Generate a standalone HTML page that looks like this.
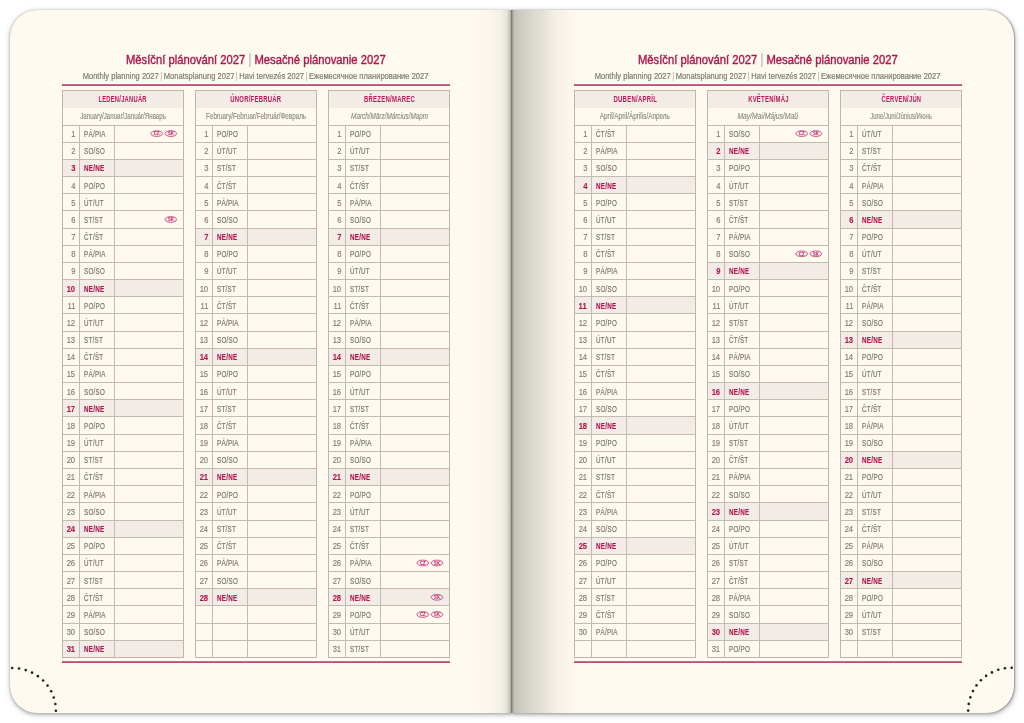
<!DOCTYPE html>
<html><head><meta charset="utf-8"><title>Planner</title><style>
html,body{margin:0;padding:0;}
body{width:1024px;height:723px;overflow:hidden;background:#ffffff;position:relative;font-family:"Liberation Sans",sans-serif;}
.page{position:absolute;top:10.1px;height:702.6px;background:#fefaef;box-shadow:0 0 1.2px rgba(90,85,95,0.45),0 0 4px rgba(80,80,95,0.1),0 1.5px 3px rgba(95,88,80,0.27),0 2px 7px rgba(60,60,75,0.17);}
.pl{left:10.2px;width:501.8px;border-radius:27px 0 0 27px;}
.pr{left:512px;width:501.8px;border-radius:0 27px 27px 0;box-shadow:0 0 1.2px rgba(90,85,95,0.45),0 0 4px rgba(80,80,95,0.1),0.6px 0 1px rgba(90,85,90,0.3),1px 1.5px 3px rgba(95,88,80,0.3),1px 2px 7px rgba(60,60,75,0.18);}
.shl{position:absolute;top:10.1px;height:702.6px;left:470px;width:42px;background:linear-gradient(to right,rgba(253,248,237,0) 0%,rgba(250,241,233,0.5) 50%,#f3efe4 75%,#e4e1d6 88%,#c4c1b8 95%,#8f8c85 100%);}
.shr{position:absolute;top:10.1px;height:702.6px;left:511px;width:68px;background:linear-gradient(to right,#6f6c66 0px,#9e9b93 1.5px,#c2bfb7 3px,#c8c5bd 6px,#d0cdc4 12px,#d9d6cd 20px,#e1ded4 28px,#e9e5db 36px,#f1ece3 41px,#f7f0e8 46px,#fbf4ec 55px,rgba(254,250,239,0) 68px);}
.title,.sub,.mh,.ms{position:absolute;text-align:center;white-space:nowrap;}
.title span,.sub span,.mh span,.ms span,.wd span{display:inline-block;transform-origin:50% 50%;}
.wd span{transform-origin:0 50%;}
.dn span{display:inline-block;transform-origin:100% 50%;}
.title{top:52.2px;width:400px;font-size:12.8px;line-height:16px;color:#ad164d;-webkit-text-stroke:0.4px #ad164d;}
.sub{top:70.9px;width:420px;font-size:8.4px;line-height:10px;color:#7f7c77;-webkit-text-stroke:0.2px #7f7c77;}
.sp{font-style:normal;color:#aaa69f;-webkit-text-stroke:0;display:inline-block;transform:scaleY(1.12);}
.pk{position:absolute;height:1.8px;background:linear-gradient(#e596b2 0%,#b9587b 35%,#a9566f 100%);}
.tb{position:absolute;border:1px solid #bcb7ad;box-sizing:border-box;}
.hl{position:absolute;height:1px;background:#c1bcb2;}
.vl{position:absolute;width:1px;background:#c1bcb2;}
.hd{position:absolute;background:#f2ebe6;}
.sun{position:absolute;background:#f2ebe6;}
.mh{top:94.4px;font-weight:bold;font-size:8.3px;letter-spacing:0.35px;line-height:10px;color:#bb1856;}
.ms{top:112.2px;font-size:8.2px;line-height:10px;color:#86837e;-webkit-text-stroke:0.1px #86837e;}
.dn{position:absolute;text-align:right;font-size:8.2px;line-height:9px;color:#807d77;-webkit-text-stroke:0.15px #807d77;white-space:nowrap;}
.wd{position:absolute;font-size:8.2px;line-height:9px;letter-spacing:0.35px;color:#7a7772;-webkit-text-stroke:0.2px #7a7772;white-space:nowrap;}
.s{color:#b01550;font-weight:bold;-webkit-text-stroke:0.1px #b01550;}
.bdg ellipse{fill:#fbe8ee;stroke:#c54c78;stroke-width:0.9px;}
.bdg text{font-family:"Liberation Sans",sans-serif;font-size:4.8px;font-weight:bold;fill:#b52a60;text-anchor:middle;}
.a{position:absolute;}
</style></head><body>
<div class="page pl"></div><div class="page pr"></div>
<div class="shl"></div><div class="shr"></div>
<div class="title" style="left:55.5px"><span style="transform:scaleX(0.8782);">Měsíční plánování 2027 <i class="sp">|</i> Mesačné plánovanie 2027</span></div>
<div class="sub" style="left:45.5px"><span style="transform:scaleX(0.9027);">Monthly planning 2027 <i class="sp">|</i> Monatsplanung 2027 <i class="sp">|</i> Havi tervezés 2027 <i class="sp">|</i> Ежемесячное планирование 2027</span></div>
<div class="pk" style="left:62px;top:83.8px;width:387.6px"></div>
<div class="pk" style="left:62px;top:661.3px;width:387.6px"></div>
<div class="hd" style="left:62.5px;top:90.5px;width:121px;height:17.0px"></div>
<div class="sun" style="left:62.5px;top:159.35px;width:121px;height:17.17px"></div>
<div class="sun" style="left:62.5px;top:279.57px;width:121px;height:17.17px"></div>
<div class="sun" style="left:62.5px;top:399.79px;width:121px;height:17.17px"></div>
<div class="sun" style="left:62.5px;top:520.01px;width:121px;height:17.17px"></div>
<div class="sun" style="left:62.5px;top:640.23px;width:121px;height:17.17px"></div>
<div class="tb" style="left:62.0px;top:90.0px;width:122px;height:567.9px"></div>
<div class="hl" style="left:62.5px;top:124.5px;width:121px"></div>
<div class="hl" style="left:62.5px;top:141.67px;width:121px"></div>
<div class="hl" style="left:62.5px;top:158.85px;width:121px"></div>
<div class="hl" style="left:62.5px;top:176.02px;width:121px"></div>
<div class="hl" style="left:62.5px;top:193.20px;width:121px"></div>
<div class="hl" style="left:62.5px;top:210.37px;width:121px"></div>
<div class="hl" style="left:62.5px;top:227.55px;width:121px"></div>
<div class="hl" style="left:62.5px;top:244.72px;width:121px"></div>
<div class="hl" style="left:62.5px;top:261.89px;width:121px"></div>
<div class="hl" style="left:62.5px;top:279.07px;width:121px"></div>
<div class="hl" style="left:62.5px;top:296.24px;width:121px"></div>
<div class="hl" style="left:62.5px;top:313.42px;width:121px"></div>
<div class="hl" style="left:62.5px;top:330.59px;width:121px"></div>
<div class="hl" style="left:62.5px;top:347.76px;width:121px"></div>
<div class="hl" style="left:62.5px;top:364.94px;width:121px"></div>
<div class="hl" style="left:62.5px;top:382.11px;width:121px"></div>
<div class="hl" style="left:62.5px;top:399.29px;width:121px"></div>
<div class="hl" style="left:62.5px;top:416.46px;width:121px"></div>
<div class="hl" style="left:62.5px;top:433.64px;width:121px"></div>
<div class="hl" style="left:62.5px;top:450.81px;width:121px"></div>
<div class="hl" style="left:62.5px;top:467.98px;width:121px"></div>
<div class="hl" style="left:62.5px;top:485.16px;width:121px"></div>
<div class="hl" style="left:62.5px;top:502.33px;width:121px"></div>
<div class="hl" style="left:62.5px;top:519.51px;width:121px"></div>
<div class="hl" style="left:62.5px;top:536.68px;width:121px"></div>
<div class="hl" style="left:62.5px;top:553.85px;width:121px"></div>
<div class="hl" style="left:62.5px;top:571.03px;width:121px"></div>
<div class="hl" style="left:62.5px;top:588.20px;width:121px"></div>
<div class="hl" style="left:62.5px;top:605.38px;width:121px"></div>
<div class="hl" style="left:62.5px;top:622.55px;width:121px"></div>
<div class="hl" style="left:62.5px;top:639.73px;width:121px"></div>
<div class="vl" style="left:79.0px;top:125.0px;height:532.4px"></div>
<div class="vl" style="left:114.0px;top:125.0px;height:532.4px"></div>
<div class="mh" style="left:23.0px;width:200px"><span style="transform:scaleX(0.6997);">LEDEN/JANUÁR</span></div>
<div class="ms" style="left:23.0px;width:200px;"><span style="transform:scaleX(0.7507);">January/Januar/Január/Январь</span></div>
<div class="dn" style="left:62.5px;top:130.00px;width:12.6px"><span style="transform:scaleX(0.9300)">1</span></div>
<div class="wd" style="left:83.8px;top:130.00px"><span style="transform:scaleX(0.7658)">PÁ/PIA</span></div>
<div class="dn" style="left:62.5px;top:147.17px;width:12.6px"><span style="transform:scaleX(0.9300)">2</span></div>
<div class="wd" style="left:83.8px;top:147.17px"><span style="transform:scaleX(0.7658)">SO/SO</span></div>
<div class="dn s" style="left:62.5px;top:164.35px;width:12.6px"><span style="transform:scaleX(0.9300)">3</span></div>
<div class="wd s" style="left:83.8px;top:164.35px"><span style="transform:scaleX(0.7658)">NE/NE</span></div>
<div class="dn" style="left:62.5px;top:181.52px;width:12.6px"><span style="transform:scaleX(0.9300)">4</span></div>
<div class="wd" style="left:83.8px;top:181.52px"><span style="transform:scaleX(0.7658)">PO/PO</span></div>
<div class="dn" style="left:62.5px;top:198.70px;width:12.6px"><span style="transform:scaleX(0.9300)">5</span></div>
<div class="wd" style="left:83.8px;top:198.70px"><span style="transform:scaleX(0.7658)">ÚT/UT</span></div>
<div class="dn" style="left:62.5px;top:215.87px;width:12.6px"><span style="transform:scaleX(0.9300)">6</span></div>
<div class="wd" style="left:83.8px;top:215.87px"><span style="transform:scaleX(0.7658)">ST/ST</span></div>
<div class="dn" style="left:62.5px;top:233.05px;width:12.6px"><span style="transform:scaleX(0.9300)">7</span></div>
<div class="wd" style="left:83.8px;top:233.05px"><span style="transform:scaleX(0.7658)">ČT/ŠT</span></div>
<div class="dn" style="left:62.5px;top:250.22px;width:12.6px"><span style="transform:scaleX(0.9300)">8</span></div>
<div class="wd" style="left:83.8px;top:250.22px"><span style="transform:scaleX(0.7658)">PÁ/PIA</span></div>
<div class="dn" style="left:62.5px;top:267.39px;width:12.6px"><span style="transform:scaleX(0.9300)">9</span></div>
<div class="wd" style="left:83.8px;top:267.39px"><span style="transform:scaleX(0.7658)">SO/SO</span></div>
<div class="dn s" style="left:62.5px;top:284.57px;width:12.6px"><span style="transform:scaleX(0.9300)">10</span></div>
<div class="wd s" style="left:83.8px;top:284.57px"><span style="transform:scaleX(0.7658)">NE/NE</span></div>
<div class="dn" style="left:62.5px;top:301.74px;width:12.6px"><span style="transform:scaleX(0.9300)">11</span></div>
<div class="wd" style="left:83.8px;top:301.74px"><span style="transform:scaleX(0.7658)">PO/PO</span></div>
<div class="dn" style="left:62.5px;top:318.92px;width:12.6px"><span style="transform:scaleX(0.9300)">12</span></div>
<div class="wd" style="left:83.8px;top:318.92px"><span style="transform:scaleX(0.7658)">ÚT/UT</span></div>
<div class="dn" style="left:62.5px;top:336.09px;width:12.6px"><span style="transform:scaleX(0.9300)">13</span></div>
<div class="wd" style="left:83.8px;top:336.09px"><span style="transform:scaleX(0.7658)">ST/ST</span></div>
<div class="dn" style="left:62.5px;top:353.26px;width:12.6px"><span style="transform:scaleX(0.9300)">14</span></div>
<div class="wd" style="left:83.8px;top:353.26px"><span style="transform:scaleX(0.7658)">ČT/ŠT</span></div>
<div class="dn" style="left:62.5px;top:370.44px;width:12.6px"><span style="transform:scaleX(0.9300)">15</span></div>
<div class="wd" style="left:83.8px;top:370.44px"><span style="transform:scaleX(0.7658)">PÁ/PIA</span></div>
<div class="dn" style="left:62.5px;top:387.61px;width:12.6px"><span style="transform:scaleX(0.9300)">16</span></div>
<div class="wd" style="left:83.8px;top:387.61px"><span style="transform:scaleX(0.7658)">SO/SO</span></div>
<div class="dn s" style="left:62.5px;top:404.79px;width:12.6px"><span style="transform:scaleX(0.9300)">17</span></div>
<div class="wd s" style="left:83.8px;top:404.79px"><span style="transform:scaleX(0.7658)">NE/NE</span></div>
<div class="dn" style="left:62.5px;top:421.96px;width:12.6px"><span style="transform:scaleX(0.9300)">18</span></div>
<div class="wd" style="left:83.8px;top:421.96px"><span style="transform:scaleX(0.7658)">PO/PO</span></div>
<div class="dn" style="left:62.5px;top:439.14px;width:12.6px"><span style="transform:scaleX(0.9300)">19</span></div>
<div class="wd" style="left:83.8px;top:439.14px"><span style="transform:scaleX(0.7658)">ÚT/UT</span></div>
<div class="dn" style="left:62.5px;top:456.31px;width:12.6px"><span style="transform:scaleX(0.9300)">20</span></div>
<div class="wd" style="left:83.8px;top:456.31px"><span style="transform:scaleX(0.7658)">ST/ST</span></div>
<div class="dn" style="left:62.5px;top:473.48px;width:12.6px"><span style="transform:scaleX(0.9300)">21</span></div>
<div class="wd" style="left:83.8px;top:473.48px"><span style="transform:scaleX(0.7658)">ČT/ŠT</span></div>
<div class="dn" style="left:62.5px;top:490.66px;width:12.6px"><span style="transform:scaleX(0.9300)">22</span></div>
<div class="wd" style="left:83.8px;top:490.66px"><span style="transform:scaleX(0.7658)">PÁ/PIA</span></div>
<div class="dn" style="left:62.5px;top:507.83px;width:12.6px"><span style="transform:scaleX(0.9300)">23</span></div>
<div class="wd" style="left:83.8px;top:507.83px"><span style="transform:scaleX(0.7658)">SO/SO</span></div>
<div class="dn s" style="left:62.5px;top:525.01px;width:12.6px"><span style="transform:scaleX(0.9300)">24</span></div>
<div class="wd s" style="left:83.8px;top:525.01px"><span style="transform:scaleX(0.7658)">NE/NE</span></div>
<div class="dn" style="left:62.5px;top:542.18px;width:12.6px"><span style="transform:scaleX(0.9300)">25</span></div>
<div class="wd" style="left:83.8px;top:542.18px"><span style="transform:scaleX(0.7658)">PO/PO</span></div>
<div class="dn" style="left:62.5px;top:559.35px;width:12.6px"><span style="transform:scaleX(0.9300)">26</span></div>
<div class="wd" style="left:83.8px;top:559.35px"><span style="transform:scaleX(0.7658)">ÚT/UT</span></div>
<div class="dn" style="left:62.5px;top:576.53px;width:12.6px"><span style="transform:scaleX(0.9300)">27</span></div>
<div class="wd" style="left:83.8px;top:576.53px"><span style="transform:scaleX(0.7658)">ST/ST</span></div>
<div class="dn" style="left:62.5px;top:593.70px;width:12.6px"><span style="transform:scaleX(0.9300)">28</span></div>
<div class="wd" style="left:83.8px;top:593.70px"><span style="transform:scaleX(0.7658)">ČT/ŠT</span></div>
<div class="dn" style="left:62.5px;top:610.88px;width:12.6px"><span style="transform:scaleX(0.9300)">29</span></div>
<div class="wd" style="left:83.8px;top:610.88px"><span style="transform:scaleX(0.7658)">PÁ/PIA</span></div>
<div class="dn" style="left:62.5px;top:628.05px;width:12.6px"><span style="transform:scaleX(0.9300)">30</span></div>
<div class="wd" style="left:83.8px;top:628.05px"><span style="transform:scaleX(0.7658)">SO/SO</span></div>
<div class="dn s" style="left:62.5px;top:645.23px;width:12.6px"><span style="transform:scaleX(0.9300)">31</span></div>
<div class="wd s" style="left:83.8px;top:645.23px"><span style="transform:scaleX(0.7658)">NE/NE</span></div>
<div class="hd" style="left:195.6px;top:90.5px;width:121px;height:17.0px"></div>
<div class="sun" style="left:195.6px;top:228.05px;width:121px;height:17.17px"></div>
<div class="sun" style="left:195.6px;top:348.26px;width:121px;height:17.17px"></div>
<div class="sun" style="left:195.6px;top:468.48px;width:121px;height:17.17px"></div>
<div class="sun" style="left:195.6px;top:588.70px;width:121px;height:17.17px"></div>
<div class="tb" style="left:195.1px;top:90.0px;width:122px;height:567.9px"></div>
<div class="hl" style="left:195.6px;top:124.5px;width:121px"></div>
<div class="hl" style="left:195.6px;top:141.67px;width:121px"></div>
<div class="hl" style="left:195.6px;top:158.85px;width:121px"></div>
<div class="hl" style="left:195.6px;top:176.02px;width:121px"></div>
<div class="hl" style="left:195.6px;top:193.20px;width:121px"></div>
<div class="hl" style="left:195.6px;top:210.37px;width:121px"></div>
<div class="hl" style="left:195.6px;top:227.55px;width:121px"></div>
<div class="hl" style="left:195.6px;top:244.72px;width:121px"></div>
<div class="hl" style="left:195.6px;top:261.89px;width:121px"></div>
<div class="hl" style="left:195.6px;top:279.07px;width:121px"></div>
<div class="hl" style="left:195.6px;top:296.24px;width:121px"></div>
<div class="hl" style="left:195.6px;top:313.42px;width:121px"></div>
<div class="hl" style="left:195.6px;top:330.59px;width:121px"></div>
<div class="hl" style="left:195.6px;top:347.76px;width:121px"></div>
<div class="hl" style="left:195.6px;top:364.94px;width:121px"></div>
<div class="hl" style="left:195.6px;top:382.11px;width:121px"></div>
<div class="hl" style="left:195.6px;top:399.29px;width:121px"></div>
<div class="hl" style="left:195.6px;top:416.46px;width:121px"></div>
<div class="hl" style="left:195.6px;top:433.64px;width:121px"></div>
<div class="hl" style="left:195.6px;top:450.81px;width:121px"></div>
<div class="hl" style="left:195.6px;top:467.98px;width:121px"></div>
<div class="hl" style="left:195.6px;top:485.16px;width:121px"></div>
<div class="hl" style="left:195.6px;top:502.33px;width:121px"></div>
<div class="hl" style="left:195.6px;top:519.51px;width:121px"></div>
<div class="hl" style="left:195.6px;top:536.68px;width:121px"></div>
<div class="hl" style="left:195.6px;top:553.85px;width:121px"></div>
<div class="hl" style="left:195.6px;top:571.03px;width:121px"></div>
<div class="hl" style="left:195.6px;top:588.20px;width:121px"></div>
<div class="hl" style="left:195.6px;top:605.38px;width:121px"></div>
<div class="hl" style="left:195.6px;top:622.55px;width:121px"></div>
<div class="hl" style="left:195.6px;top:639.73px;width:121px"></div>
<div class="vl" style="left:212.1px;top:125.0px;height:532.4px"></div>
<div class="vl" style="left:247.1px;top:125.0px;height:532.4px"></div>
<div class="mh" style="left:156.10000000000002px;width:200px"><span style="transform:scaleX(0.7137);">ÚNOR/FEBRUÁR</span></div>
<div class="ms" style="left:156.10000000000002px;width:200px;"><span style="transform:scaleX(0.7677);">February/Februar/Február/Февраль</span></div>
<div class="dn" style="left:195.6px;top:130.00px;width:12.6px"><span style="transform:scaleX(0.9300)">1</span></div>
<div class="wd" style="left:216.9px;top:130.00px"><span style="transform:scaleX(0.7658)">PO/PO</span></div>
<div class="dn" style="left:195.6px;top:147.17px;width:12.6px"><span style="transform:scaleX(0.9300)">2</span></div>
<div class="wd" style="left:216.9px;top:147.17px"><span style="transform:scaleX(0.7658)">ÚT/UT</span></div>
<div class="dn" style="left:195.6px;top:164.35px;width:12.6px"><span style="transform:scaleX(0.9300)">3</span></div>
<div class="wd" style="left:216.9px;top:164.35px"><span style="transform:scaleX(0.7658)">ST/ST</span></div>
<div class="dn" style="left:195.6px;top:181.52px;width:12.6px"><span style="transform:scaleX(0.9300)">4</span></div>
<div class="wd" style="left:216.9px;top:181.52px"><span style="transform:scaleX(0.7658)">ČT/ŠT</span></div>
<div class="dn" style="left:195.6px;top:198.70px;width:12.6px"><span style="transform:scaleX(0.9300)">5</span></div>
<div class="wd" style="left:216.9px;top:198.70px"><span style="transform:scaleX(0.7658)">PÁ/PIA</span></div>
<div class="dn" style="left:195.6px;top:215.87px;width:12.6px"><span style="transform:scaleX(0.9300)">6</span></div>
<div class="wd" style="left:216.9px;top:215.87px"><span style="transform:scaleX(0.7658)">SO/SO</span></div>
<div class="dn s" style="left:195.6px;top:233.05px;width:12.6px"><span style="transform:scaleX(0.9300)">7</span></div>
<div class="wd s" style="left:216.9px;top:233.05px"><span style="transform:scaleX(0.7658)">NE/NE</span></div>
<div class="dn" style="left:195.6px;top:250.22px;width:12.6px"><span style="transform:scaleX(0.9300)">8</span></div>
<div class="wd" style="left:216.9px;top:250.22px"><span style="transform:scaleX(0.7658)">PO/PO</span></div>
<div class="dn" style="left:195.6px;top:267.39px;width:12.6px"><span style="transform:scaleX(0.9300)">9</span></div>
<div class="wd" style="left:216.9px;top:267.39px"><span style="transform:scaleX(0.7658)">ÚT/UT</span></div>
<div class="dn" style="left:195.6px;top:284.57px;width:12.6px"><span style="transform:scaleX(0.9300)">10</span></div>
<div class="wd" style="left:216.9px;top:284.57px"><span style="transform:scaleX(0.7658)">ST/ST</span></div>
<div class="dn" style="left:195.6px;top:301.74px;width:12.6px"><span style="transform:scaleX(0.9300)">11</span></div>
<div class="wd" style="left:216.9px;top:301.74px"><span style="transform:scaleX(0.7658)">ČT/ŠT</span></div>
<div class="dn" style="left:195.6px;top:318.92px;width:12.6px"><span style="transform:scaleX(0.9300)">12</span></div>
<div class="wd" style="left:216.9px;top:318.92px"><span style="transform:scaleX(0.7658)">PÁ/PIA</span></div>
<div class="dn" style="left:195.6px;top:336.09px;width:12.6px"><span style="transform:scaleX(0.9300)">13</span></div>
<div class="wd" style="left:216.9px;top:336.09px"><span style="transform:scaleX(0.7658)">SO/SO</span></div>
<div class="dn s" style="left:195.6px;top:353.26px;width:12.6px"><span style="transform:scaleX(0.9300)">14</span></div>
<div class="wd s" style="left:216.9px;top:353.26px"><span style="transform:scaleX(0.7658)">NE/NE</span></div>
<div class="dn" style="left:195.6px;top:370.44px;width:12.6px"><span style="transform:scaleX(0.9300)">15</span></div>
<div class="wd" style="left:216.9px;top:370.44px"><span style="transform:scaleX(0.7658)">PO/PO</span></div>
<div class="dn" style="left:195.6px;top:387.61px;width:12.6px"><span style="transform:scaleX(0.9300)">16</span></div>
<div class="wd" style="left:216.9px;top:387.61px"><span style="transform:scaleX(0.7658)">ÚT/UT</span></div>
<div class="dn" style="left:195.6px;top:404.79px;width:12.6px"><span style="transform:scaleX(0.9300)">17</span></div>
<div class="wd" style="left:216.9px;top:404.79px"><span style="transform:scaleX(0.7658)">ST/ST</span></div>
<div class="dn" style="left:195.6px;top:421.96px;width:12.6px"><span style="transform:scaleX(0.9300)">18</span></div>
<div class="wd" style="left:216.9px;top:421.96px"><span style="transform:scaleX(0.7658)">ČT/ŠT</span></div>
<div class="dn" style="left:195.6px;top:439.14px;width:12.6px"><span style="transform:scaleX(0.9300)">19</span></div>
<div class="wd" style="left:216.9px;top:439.14px"><span style="transform:scaleX(0.7658)">PÁ/PIA</span></div>
<div class="dn" style="left:195.6px;top:456.31px;width:12.6px"><span style="transform:scaleX(0.9300)">20</span></div>
<div class="wd" style="left:216.9px;top:456.31px"><span style="transform:scaleX(0.7658)">SO/SO</span></div>
<div class="dn s" style="left:195.6px;top:473.48px;width:12.6px"><span style="transform:scaleX(0.9300)">21</span></div>
<div class="wd s" style="left:216.9px;top:473.48px"><span style="transform:scaleX(0.7658)">NE/NE</span></div>
<div class="dn" style="left:195.6px;top:490.66px;width:12.6px"><span style="transform:scaleX(0.9300)">22</span></div>
<div class="wd" style="left:216.9px;top:490.66px"><span style="transform:scaleX(0.7658)">PO/PO</span></div>
<div class="dn" style="left:195.6px;top:507.83px;width:12.6px"><span style="transform:scaleX(0.9300)">23</span></div>
<div class="wd" style="left:216.9px;top:507.83px"><span style="transform:scaleX(0.7658)">ÚT/UT</span></div>
<div class="dn" style="left:195.6px;top:525.01px;width:12.6px"><span style="transform:scaleX(0.9300)">24</span></div>
<div class="wd" style="left:216.9px;top:525.01px"><span style="transform:scaleX(0.7658)">ST/ST</span></div>
<div class="dn" style="left:195.6px;top:542.18px;width:12.6px"><span style="transform:scaleX(0.9300)">25</span></div>
<div class="wd" style="left:216.9px;top:542.18px"><span style="transform:scaleX(0.7658)">ČT/ŠT</span></div>
<div class="dn" style="left:195.6px;top:559.35px;width:12.6px"><span style="transform:scaleX(0.9300)">26</span></div>
<div class="wd" style="left:216.9px;top:559.35px"><span style="transform:scaleX(0.7658)">PÁ/PIA</span></div>
<div class="dn" style="left:195.6px;top:576.53px;width:12.6px"><span style="transform:scaleX(0.9300)">27</span></div>
<div class="wd" style="left:216.9px;top:576.53px"><span style="transform:scaleX(0.7658)">SO/SO</span></div>
<div class="dn s" style="left:195.6px;top:593.70px;width:12.6px"><span style="transform:scaleX(0.9300)">28</span></div>
<div class="wd s" style="left:216.9px;top:593.70px"><span style="transform:scaleX(0.7658)">NE/NE</span></div>
<div class="hd" style="left:328.7px;top:90.5px;width:121px;height:17.0px"></div>
<div class="sun" style="left:328.7px;top:228.05px;width:121px;height:17.17px"></div>
<div class="sun" style="left:328.7px;top:348.26px;width:121px;height:17.17px"></div>
<div class="sun" style="left:328.7px;top:468.48px;width:121px;height:17.17px"></div>
<div class="sun" style="left:328.7px;top:588.70px;width:121px;height:17.17px"></div>
<div class="tb" style="left:328.2px;top:90.0px;width:122px;height:567.9px"></div>
<div class="hl" style="left:328.7px;top:124.5px;width:121px"></div>
<div class="hl" style="left:328.7px;top:141.67px;width:121px"></div>
<div class="hl" style="left:328.7px;top:158.85px;width:121px"></div>
<div class="hl" style="left:328.7px;top:176.02px;width:121px"></div>
<div class="hl" style="left:328.7px;top:193.20px;width:121px"></div>
<div class="hl" style="left:328.7px;top:210.37px;width:121px"></div>
<div class="hl" style="left:328.7px;top:227.55px;width:121px"></div>
<div class="hl" style="left:328.7px;top:244.72px;width:121px"></div>
<div class="hl" style="left:328.7px;top:261.89px;width:121px"></div>
<div class="hl" style="left:328.7px;top:279.07px;width:121px"></div>
<div class="hl" style="left:328.7px;top:296.24px;width:121px"></div>
<div class="hl" style="left:328.7px;top:313.42px;width:121px"></div>
<div class="hl" style="left:328.7px;top:330.59px;width:121px"></div>
<div class="hl" style="left:328.7px;top:347.76px;width:121px"></div>
<div class="hl" style="left:328.7px;top:364.94px;width:121px"></div>
<div class="hl" style="left:328.7px;top:382.11px;width:121px"></div>
<div class="hl" style="left:328.7px;top:399.29px;width:121px"></div>
<div class="hl" style="left:328.7px;top:416.46px;width:121px"></div>
<div class="hl" style="left:328.7px;top:433.64px;width:121px"></div>
<div class="hl" style="left:328.7px;top:450.81px;width:121px"></div>
<div class="hl" style="left:328.7px;top:467.98px;width:121px"></div>
<div class="hl" style="left:328.7px;top:485.16px;width:121px"></div>
<div class="hl" style="left:328.7px;top:502.33px;width:121px"></div>
<div class="hl" style="left:328.7px;top:519.51px;width:121px"></div>
<div class="hl" style="left:328.7px;top:536.68px;width:121px"></div>
<div class="hl" style="left:328.7px;top:553.85px;width:121px"></div>
<div class="hl" style="left:328.7px;top:571.03px;width:121px"></div>
<div class="hl" style="left:328.7px;top:588.20px;width:121px"></div>
<div class="hl" style="left:328.7px;top:605.38px;width:121px"></div>
<div class="hl" style="left:328.7px;top:622.55px;width:121px"></div>
<div class="hl" style="left:328.7px;top:639.73px;width:121px"></div>
<div class="vl" style="left:345.2px;top:125.0px;height:532.4px"></div>
<div class="vl" style="left:380.2px;top:125.0px;height:532.4px"></div>
<div class="mh" style="left:289.2px;width:200px"><span style="transform:scaleX(0.7197);">BŘEZEN/MAREC</span></div>
<div class="ms" style="left:289.2px;width:200px;font-style:italic;"><span style="transform:scaleX(0.7764);">March/März/Március/Март</span></div>
<div class="dn" style="left:328.7px;top:130.00px;width:12.6px"><span style="transform:scaleX(0.9300)">1</span></div>
<div class="wd" style="left:350.0px;top:130.00px"><span style="transform:scaleX(0.7658)">PO/PO</span></div>
<div class="dn" style="left:328.7px;top:147.17px;width:12.6px"><span style="transform:scaleX(0.9300)">2</span></div>
<div class="wd" style="left:350.0px;top:147.17px"><span style="transform:scaleX(0.7658)">ÚT/UT</span></div>
<div class="dn" style="left:328.7px;top:164.35px;width:12.6px"><span style="transform:scaleX(0.9300)">3</span></div>
<div class="wd" style="left:350.0px;top:164.35px"><span style="transform:scaleX(0.7658)">ST/ST</span></div>
<div class="dn" style="left:328.7px;top:181.52px;width:12.6px"><span style="transform:scaleX(0.9300)">4</span></div>
<div class="wd" style="left:350.0px;top:181.52px"><span style="transform:scaleX(0.7658)">ČT/ŠT</span></div>
<div class="dn" style="left:328.7px;top:198.70px;width:12.6px"><span style="transform:scaleX(0.9300)">5</span></div>
<div class="wd" style="left:350.0px;top:198.70px"><span style="transform:scaleX(0.7658)">PÁ/PIA</span></div>
<div class="dn" style="left:328.7px;top:215.87px;width:12.6px"><span style="transform:scaleX(0.9300)">6</span></div>
<div class="wd" style="left:350.0px;top:215.87px"><span style="transform:scaleX(0.7658)">SO/SO</span></div>
<div class="dn s" style="left:328.7px;top:233.05px;width:12.6px"><span style="transform:scaleX(0.9300)">7</span></div>
<div class="wd s" style="left:350.0px;top:233.05px"><span style="transform:scaleX(0.7658)">NE/NE</span></div>
<div class="dn" style="left:328.7px;top:250.22px;width:12.6px"><span style="transform:scaleX(0.9300)">8</span></div>
<div class="wd" style="left:350.0px;top:250.22px"><span style="transform:scaleX(0.7658)">PO/PO</span></div>
<div class="dn" style="left:328.7px;top:267.39px;width:12.6px"><span style="transform:scaleX(0.9300)">9</span></div>
<div class="wd" style="left:350.0px;top:267.39px"><span style="transform:scaleX(0.7658)">ÚT/UT</span></div>
<div class="dn" style="left:328.7px;top:284.57px;width:12.6px"><span style="transform:scaleX(0.9300)">10</span></div>
<div class="wd" style="left:350.0px;top:284.57px"><span style="transform:scaleX(0.7658)">ST/ST</span></div>
<div class="dn" style="left:328.7px;top:301.74px;width:12.6px"><span style="transform:scaleX(0.9300)">11</span></div>
<div class="wd" style="left:350.0px;top:301.74px"><span style="transform:scaleX(0.7658)">ČT/ŠT</span></div>
<div class="dn" style="left:328.7px;top:318.92px;width:12.6px"><span style="transform:scaleX(0.9300)">12</span></div>
<div class="wd" style="left:350.0px;top:318.92px"><span style="transform:scaleX(0.7658)">PÁ/PIA</span></div>
<div class="dn" style="left:328.7px;top:336.09px;width:12.6px"><span style="transform:scaleX(0.9300)">13</span></div>
<div class="wd" style="left:350.0px;top:336.09px"><span style="transform:scaleX(0.7658)">SO/SO</span></div>
<div class="dn s" style="left:328.7px;top:353.26px;width:12.6px"><span style="transform:scaleX(0.9300)">14</span></div>
<div class="wd s" style="left:350.0px;top:353.26px"><span style="transform:scaleX(0.7658)">NE/NE</span></div>
<div class="dn" style="left:328.7px;top:370.44px;width:12.6px"><span style="transform:scaleX(0.9300)">15</span></div>
<div class="wd" style="left:350.0px;top:370.44px"><span style="transform:scaleX(0.7658)">PO/PO</span></div>
<div class="dn" style="left:328.7px;top:387.61px;width:12.6px"><span style="transform:scaleX(0.9300)">16</span></div>
<div class="wd" style="left:350.0px;top:387.61px"><span style="transform:scaleX(0.7658)">ÚT/UT</span></div>
<div class="dn" style="left:328.7px;top:404.79px;width:12.6px"><span style="transform:scaleX(0.9300)">17</span></div>
<div class="wd" style="left:350.0px;top:404.79px"><span style="transform:scaleX(0.7658)">ST/ST</span></div>
<div class="dn" style="left:328.7px;top:421.96px;width:12.6px"><span style="transform:scaleX(0.9300)">18</span></div>
<div class="wd" style="left:350.0px;top:421.96px"><span style="transform:scaleX(0.7658)">ČT/ŠT</span></div>
<div class="dn" style="left:328.7px;top:439.14px;width:12.6px"><span style="transform:scaleX(0.9300)">19</span></div>
<div class="wd" style="left:350.0px;top:439.14px"><span style="transform:scaleX(0.7658)">PÁ/PIA</span></div>
<div class="dn" style="left:328.7px;top:456.31px;width:12.6px"><span style="transform:scaleX(0.9300)">20</span></div>
<div class="wd" style="left:350.0px;top:456.31px"><span style="transform:scaleX(0.7658)">SO/SO</span></div>
<div class="dn s" style="left:328.7px;top:473.48px;width:12.6px"><span style="transform:scaleX(0.9300)">21</span></div>
<div class="wd s" style="left:350.0px;top:473.48px"><span style="transform:scaleX(0.7658)">NE/NE</span></div>
<div class="dn" style="left:328.7px;top:490.66px;width:12.6px"><span style="transform:scaleX(0.9300)">22</span></div>
<div class="wd" style="left:350.0px;top:490.66px"><span style="transform:scaleX(0.7658)">PO/PO</span></div>
<div class="dn" style="left:328.7px;top:507.83px;width:12.6px"><span style="transform:scaleX(0.9300)">23</span></div>
<div class="wd" style="left:350.0px;top:507.83px"><span style="transform:scaleX(0.7658)">ÚT/UT</span></div>
<div class="dn" style="left:328.7px;top:525.01px;width:12.6px"><span style="transform:scaleX(0.9300)">24</span></div>
<div class="wd" style="left:350.0px;top:525.01px"><span style="transform:scaleX(0.7658)">ST/ST</span></div>
<div class="dn" style="left:328.7px;top:542.18px;width:12.6px"><span style="transform:scaleX(0.9300)">25</span></div>
<div class="wd" style="left:350.0px;top:542.18px"><span style="transform:scaleX(0.7658)">ČT/ŠT</span></div>
<div class="dn" style="left:328.7px;top:559.35px;width:12.6px"><span style="transform:scaleX(0.9300)">26</span></div>
<div class="wd" style="left:350.0px;top:559.35px"><span style="transform:scaleX(0.7658)">PÁ/PIA</span></div>
<div class="dn" style="left:328.7px;top:576.53px;width:12.6px"><span style="transform:scaleX(0.9300)">27</span></div>
<div class="wd" style="left:350.0px;top:576.53px"><span style="transform:scaleX(0.7658)">SO/SO</span></div>
<div class="dn s" style="left:328.7px;top:593.70px;width:12.6px"><span style="transform:scaleX(0.9300)">28</span></div>
<div class="wd s" style="left:350.0px;top:593.70px"><span style="transform:scaleX(0.7658)">NE/NE</span></div>
<div class="dn" style="left:328.7px;top:610.88px;width:12.6px"><span style="transform:scaleX(0.9300)">29</span></div>
<div class="wd" style="left:350.0px;top:610.88px"><span style="transform:scaleX(0.7658)">PO/PO</span></div>
<div class="dn" style="left:328.7px;top:628.05px;width:12.6px"><span style="transform:scaleX(0.9300)">30</span></div>
<div class="wd" style="left:350.0px;top:628.05px"><span style="transform:scaleX(0.7658)">ÚT/UT</span></div>
<div class="dn" style="left:328.7px;top:645.23px;width:12.6px"><span style="transform:scaleX(0.9300)">31</span></div>
<div class="wd" style="left:350.0px;top:645.23px"><span style="transform:scaleX(0.7658)">ST/ST</span></div>
<div class="title" style="left:567.5px"><span style="transform:scaleX(0.8782);">Měsíční plánování 2027 <i class="sp">|</i> Mesačné plánovanie 2027</span></div>
<div class="sub" style="left:557.5px"><span style="transform:scaleX(0.9027);">Monthly planning 2027 <i class="sp">|</i> Monatsplanung 2027 <i class="sp">|</i> Havi tervezés 2027 <i class="sp">|</i> Ежемесячное планирование 2027</span></div>
<div class="pk" style="left:574px;top:83.8px;width:387.6px"></div>
<div class="pk" style="left:574px;top:661.3px;width:387.6px"></div>
<div class="hd" style="left:574.5px;top:90.5px;width:121px;height:17.0px"></div>
<div class="sun" style="left:574.5px;top:176.52px;width:121px;height:17.17px"></div>
<div class="sun" style="left:574.5px;top:296.74px;width:121px;height:17.17px"></div>
<div class="sun" style="left:574.5px;top:416.96px;width:121px;height:17.17px"></div>
<div class="sun" style="left:574.5px;top:537.18px;width:121px;height:17.17px"></div>
<div class="tb" style="left:574.0px;top:90.0px;width:122px;height:567.9px"></div>
<div class="hl" style="left:574.5px;top:124.5px;width:121px"></div>
<div class="hl" style="left:574.5px;top:141.67px;width:121px"></div>
<div class="hl" style="left:574.5px;top:158.85px;width:121px"></div>
<div class="hl" style="left:574.5px;top:176.02px;width:121px"></div>
<div class="hl" style="left:574.5px;top:193.20px;width:121px"></div>
<div class="hl" style="left:574.5px;top:210.37px;width:121px"></div>
<div class="hl" style="left:574.5px;top:227.55px;width:121px"></div>
<div class="hl" style="left:574.5px;top:244.72px;width:121px"></div>
<div class="hl" style="left:574.5px;top:261.89px;width:121px"></div>
<div class="hl" style="left:574.5px;top:279.07px;width:121px"></div>
<div class="hl" style="left:574.5px;top:296.24px;width:121px"></div>
<div class="hl" style="left:574.5px;top:313.42px;width:121px"></div>
<div class="hl" style="left:574.5px;top:330.59px;width:121px"></div>
<div class="hl" style="left:574.5px;top:347.76px;width:121px"></div>
<div class="hl" style="left:574.5px;top:364.94px;width:121px"></div>
<div class="hl" style="left:574.5px;top:382.11px;width:121px"></div>
<div class="hl" style="left:574.5px;top:399.29px;width:121px"></div>
<div class="hl" style="left:574.5px;top:416.46px;width:121px"></div>
<div class="hl" style="left:574.5px;top:433.64px;width:121px"></div>
<div class="hl" style="left:574.5px;top:450.81px;width:121px"></div>
<div class="hl" style="left:574.5px;top:467.98px;width:121px"></div>
<div class="hl" style="left:574.5px;top:485.16px;width:121px"></div>
<div class="hl" style="left:574.5px;top:502.33px;width:121px"></div>
<div class="hl" style="left:574.5px;top:519.51px;width:121px"></div>
<div class="hl" style="left:574.5px;top:536.68px;width:121px"></div>
<div class="hl" style="left:574.5px;top:553.85px;width:121px"></div>
<div class="hl" style="left:574.5px;top:571.03px;width:121px"></div>
<div class="hl" style="left:574.5px;top:588.20px;width:121px"></div>
<div class="hl" style="left:574.5px;top:605.38px;width:121px"></div>
<div class="hl" style="left:574.5px;top:622.55px;width:121px"></div>
<div class="hl" style="left:574.5px;top:639.73px;width:121px"></div>
<div class="vl" style="left:591.0px;top:125.0px;height:532.4px"></div>
<div class="vl" style="left:626.0px;top:125.0px;height:532.4px"></div>
<div class="mh" style="left:535.0px;width:200px"><span style="transform:scaleX(0.7206);">DUBEN/APRÍL</span></div>
<div class="ms" style="left:535.0px;width:200px;"><span style="transform:scaleX(0.7827);">April/April/Április/Апрель</span></div>
<div class="dn" style="left:574.5px;top:130.00px;width:12.6px"><span style="transform:scaleX(0.9300)">1</span></div>
<div class="wd" style="left:595.8px;top:130.00px"><span style="transform:scaleX(0.7658)">ČT/ŠT</span></div>
<div class="dn" style="left:574.5px;top:147.17px;width:12.6px"><span style="transform:scaleX(0.9300)">2</span></div>
<div class="wd" style="left:595.8px;top:147.17px"><span style="transform:scaleX(0.7658)">PÁ/PIA</span></div>
<div class="dn" style="left:574.5px;top:164.35px;width:12.6px"><span style="transform:scaleX(0.9300)">3</span></div>
<div class="wd" style="left:595.8px;top:164.35px"><span style="transform:scaleX(0.7658)">SO/SO</span></div>
<div class="dn s" style="left:574.5px;top:181.52px;width:12.6px"><span style="transform:scaleX(0.9300)">4</span></div>
<div class="wd s" style="left:595.8px;top:181.52px"><span style="transform:scaleX(0.7658)">NE/NE</span></div>
<div class="dn" style="left:574.5px;top:198.70px;width:12.6px"><span style="transform:scaleX(0.9300)">5</span></div>
<div class="wd" style="left:595.8px;top:198.70px"><span style="transform:scaleX(0.7658)">PO/PO</span></div>
<div class="dn" style="left:574.5px;top:215.87px;width:12.6px"><span style="transform:scaleX(0.9300)">6</span></div>
<div class="wd" style="left:595.8px;top:215.87px"><span style="transform:scaleX(0.7658)">ÚT/UT</span></div>
<div class="dn" style="left:574.5px;top:233.05px;width:12.6px"><span style="transform:scaleX(0.9300)">7</span></div>
<div class="wd" style="left:595.8px;top:233.05px"><span style="transform:scaleX(0.7658)">ST/ST</span></div>
<div class="dn" style="left:574.5px;top:250.22px;width:12.6px"><span style="transform:scaleX(0.9300)">8</span></div>
<div class="wd" style="left:595.8px;top:250.22px"><span style="transform:scaleX(0.7658)">ČT/ŠT</span></div>
<div class="dn" style="left:574.5px;top:267.39px;width:12.6px"><span style="transform:scaleX(0.9300)">9</span></div>
<div class="wd" style="left:595.8px;top:267.39px"><span style="transform:scaleX(0.7658)">PÁ/PIA</span></div>
<div class="dn" style="left:574.5px;top:284.57px;width:12.6px"><span style="transform:scaleX(0.9300)">10</span></div>
<div class="wd" style="left:595.8px;top:284.57px"><span style="transform:scaleX(0.7658)">SO/SO</span></div>
<div class="dn s" style="left:574.5px;top:301.74px;width:12.6px"><span style="transform:scaleX(0.9300)">11</span></div>
<div class="wd s" style="left:595.8px;top:301.74px"><span style="transform:scaleX(0.7658)">NE/NE</span></div>
<div class="dn" style="left:574.5px;top:318.92px;width:12.6px"><span style="transform:scaleX(0.9300)">12</span></div>
<div class="wd" style="left:595.8px;top:318.92px"><span style="transform:scaleX(0.7658)">PO/PO</span></div>
<div class="dn" style="left:574.5px;top:336.09px;width:12.6px"><span style="transform:scaleX(0.9300)">13</span></div>
<div class="wd" style="left:595.8px;top:336.09px"><span style="transform:scaleX(0.7658)">ÚT/UT</span></div>
<div class="dn" style="left:574.5px;top:353.26px;width:12.6px"><span style="transform:scaleX(0.9300)">14</span></div>
<div class="wd" style="left:595.8px;top:353.26px"><span style="transform:scaleX(0.7658)">ST/ST</span></div>
<div class="dn" style="left:574.5px;top:370.44px;width:12.6px"><span style="transform:scaleX(0.9300)">15</span></div>
<div class="wd" style="left:595.8px;top:370.44px"><span style="transform:scaleX(0.7658)">ČT/ŠT</span></div>
<div class="dn" style="left:574.5px;top:387.61px;width:12.6px"><span style="transform:scaleX(0.9300)">16</span></div>
<div class="wd" style="left:595.8px;top:387.61px"><span style="transform:scaleX(0.7658)">PÁ/PIA</span></div>
<div class="dn" style="left:574.5px;top:404.79px;width:12.6px"><span style="transform:scaleX(0.9300)">17</span></div>
<div class="wd" style="left:595.8px;top:404.79px"><span style="transform:scaleX(0.7658)">SO/SO</span></div>
<div class="dn s" style="left:574.5px;top:421.96px;width:12.6px"><span style="transform:scaleX(0.9300)">18</span></div>
<div class="wd s" style="left:595.8px;top:421.96px"><span style="transform:scaleX(0.7658)">NE/NE</span></div>
<div class="dn" style="left:574.5px;top:439.14px;width:12.6px"><span style="transform:scaleX(0.9300)">19</span></div>
<div class="wd" style="left:595.8px;top:439.14px"><span style="transform:scaleX(0.7658)">PO/PO</span></div>
<div class="dn" style="left:574.5px;top:456.31px;width:12.6px"><span style="transform:scaleX(0.9300)">20</span></div>
<div class="wd" style="left:595.8px;top:456.31px"><span style="transform:scaleX(0.7658)">ÚT/UT</span></div>
<div class="dn" style="left:574.5px;top:473.48px;width:12.6px"><span style="transform:scaleX(0.9300)">21</span></div>
<div class="wd" style="left:595.8px;top:473.48px"><span style="transform:scaleX(0.7658)">ST/ST</span></div>
<div class="dn" style="left:574.5px;top:490.66px;width:12.6px"><span style="transform:scaleX(0.9300)">22</span></div>
<div class="wd" style="left:595.8px;top:490.66px"><span style="transform:scaleX(0.7658)">ČT/ŠT</span></div>
<div class="dn" style="left:574.5px;top:507.83px;width:12.6px"><span style="transform:scaleX(0.9300)">23</span></div>
<div class="wd" style="left:595.8px;top:507.83px"><span style="transform:scaleX(0.7658)">PÁ/PIA</span></div>
<div class="dn" style="left:574.5px;top:525.01px;width:12.6px"><span style="transform:scaleX(0.9300)">24</span></div>
<div class="wd" style="left:595.8px;top:525.01px"><span style="transform:scaleX(0.7658)">SO/SO</span></div>
<div class="dn s" style="left:574.5px;top:542.18px;width:12.6px"><span style="transform:scaleX(0.9300)">25</span></div>
<div class="wd s" style="left:595.8px;top:542.18px"><span style="transform:scaleX(0.7658)">NE/NE</span></div>
<div class="dn" style="left:574.5px;top:559.35px;width:12.6px"><span style="transform:scaleX(0.9300)">26</span></div>
<div class="wd" style="left:595.8px;top:559.35px"><span style="transform:scaleX(0.7658)">PO/PO</span></div>
<div class="dn" style="left:574.5px;top:576.53px;width:12.6px"><span style="transform:scaleX(0.9300)">27</span></div>
<div class="wd" style="left:595.8px;top:576.53px"><span style="transform:scaleX(0.7658)">ÚT/UT</span></div>
<div class="dn" style="left:574.5px;top:593.70px;width:12.6px"><span style="transform:scaleX(0.9300)">28</span></div>
<div class="wd" style="left:595.8px;top:593.70px"><span style="transform:scaleX(0.7658)">ST/ST</span></div>
<div class="dn" style="left:574.5px;top:610.88px;width:12.6px"><span style="transform:scaleX(0.9300)">29</span></div>
<div class="wd" style="left:595.8px;top:610.88px"><span style="transform:scaleX(0.7658)">ČT/ŠT</span></div>
<div class="dn" style="left:574.5px;top:628.05px;width:12.6px"><span style="transform:scaleX(0.9300)">30</span></div>
<div class="wd" style="left:595.8px;top:628.05px"><span style="transform:scaleX(0.7658)">PÁ/PIA</span></div>
<div class="hd" style="left:707.6px;top:90.5px;width:121px;height:17.0px"></div>
<div class="sun" style="left:707.6px;top:142.17px;width:121px;height:17.17px"></div>
<div class="sun" style="left:707.6px;top:262.39px;width:121px;height:17.17px"></div>
<div class="sun" style="left:707.6px;top:382.61px;width:121px;height:17.17px"></div>
<div class="sun" style="left:707.6px;top:502.83px;width:121px;height:17.17px"></div>
<div class="sun" style="left:707.6px;top:623.05px;width:121px;height:17.17px"></div>
<div class="tb" style="left:707.1px;top:90.0px;width:122px;height:567.9px"></div>
<div class="hl" style="left:707.6px;top:124.5px;width:121px"></div>
<div class="hl" style="left:707.6px;top:141.67px;width:121px"></div>
<div class="hl" style="left:707.6px;top:158.85px;width:121px"></div>
<div class="hl" style="left:707.6px;top:176.02px;width:121px"></div>
<div class="hl" style="left:707.6px;top:193.20px;width:121px"></div>
<div class="hl" style="left:707.6px;top:210.37px;width:121px"></div>
<div class="hl" style="left:707.6px;top:227.55px;width:121px"></div>
<div class="hl" style="left:707.6px;top:244.72px;width:121px"></div>
<div class="hl" style="left:707.6px;top:261.89px;width:121px"></div>
<div class="hl" style="left:707.6px;top:279.07px;width:121px"></div>
<div class="hl" style="left:707.6px;top:296.24px;width:121px"></div>
<div class="hl" style="left:707.6px;top:313.42px;width:121px"></div>
<div class="hl" style="left:707.6px;top:330.59px;width:121px"></div>
<div class="hl" style="left:707.6px;top:347.76px;width:121px"></div>
<div class="hl" style="left:707.6px;top:364.94px;width:121px"></div>
<div class="hl" style="left:707.6px;top:382.11px;width:121px"></div>
<div class="hl" style="left:707.6px;top:399.29px;width:121px"></div>
<div class="hl" style="left:707.6px;top:416.46px;width:121px"></div>
<div class="hl" style="left:707.6px;top:433.64px;width:121px"></div>
<div class="hl" style="left:707.6px;top:450.81px;width:121px"></div>
<div class="hl" style="left:707.6px;top:467.98px;width:121px"></div>
<div class="hl" style="left:707.6px;top:485.16px;width:121px"></div>
<div class="hl" style="left:707.6px;top:502.33px;width:121px"></div>
<div class="hl" style="left:707.6px;top:519.51px;width:121px"></div>
<div class="hl" style="left:707.6px;top:536.68px;width:121px"></div>
<div class="hl" style="left:707.6px;top:553.85px;width:121px"></div>
<div class="hl" style="left:707.6px;top:571.03px;width:121px"></div>
<div class="hl" style="left:707.6px;top:588.20px;width:121px"></div>
<div class="hl" style="left:707.6px;top:605.38px;width:121px"></div>
<div class="hl" style="left:707.6px;top:622.55px;width:121px"></div>
<div class="hl" style="left:707.6px;top:639.73px;width:121px"></div>
<div class="vl" style="left:724.1px;top:125.0px;height:532.4px"></div>
<div class="vl" style="left:759.1px;top:125.0px;height:532.4px"></div>
<div class="mh" style="left:668.1px;width:200px"><span style="transform:scaleX(0.7147);">KVĚTEN/MÁJ</span></div>
<div class="ms" style="left:668.1px;width:200px;font-style:italic;"><span style="transform:scaleX(0.8260);">May/Mai/Május/Май</span></div>
<div class="dn" style="left:707.6px;top:130.00px;width:12.6px"><span style="transform:scaleX(0.9300)">1</span></div>
<div class="wd" style="left:728.9px;top:130.00px"><span style="transform:scaleX(0.7658)">SO/SO</span></div>
<div class="dn s" style="left:707.6px;top:147.17px;width:12.6px"><span style="transform:scaleX(0.9300)">2</span></div>
<div class="wd s" style="left:728.9px;top:147.17px"><span style="transform:scaleX(0.7658)">NE/NE</span></div>
<div class="dn" style="left:707.6px;top:164.35px;width:12.6px"><span style="transform:scaleX(0.9300)">3</span></div>
<div class="wd" style="left:728.9px;top:164.35px"><span style="transform:scaleX(0.7658)">PO/PO</span></div>
<div class="dn" style="left:707.6px;top:181.52px;width:12.6px"><span style="transform:scaleX(0.9300)">4</span></div>
<div class="wd" style="left:728.9px;top:181.52px"><span style="transform:scaleX(0.7658)">ÚT/UT</span></div>
<div class="dn" style="left:707.6px;top:198.70px;width:12.6px"><span style="transform:scaleX(0.9300)">5</span></div>
<div class="wd" style="left:728.9px;top:198.70px"><span style="transform:scaleX(0.7658)">ST/ST</span></div>
<div class="dn" style="left:707.6px;top:215.87px;width:12.6px"><span style="transform:scaleX(0.9300)">6</span></div>
<div class="wd" style="left:728.9px;top:215.87px"><span style="transform:scaleX(0.7658)">ČT/ŠT</span></div>
<div class="dn" style="left:707.6px;top:233.05px;width:12.6px"><span style="transform:scaleX(0.9300)">7</span></div>
<div class="wd" style="left:728.9px;top:233.05px"><span style="transform:scaleX(0.7658)">PÁ/PIA</span></div>
<div class="dn" style="left:707.6px;top:250.22px;width:12.6px"><span style="transform:scaleX(0.9300)">8</span></div>
<div class="wd" style="left:728.9px;top:250.22px"><span style="transform:scaleX(0.7658)">SO/SO</span></div>
<div class="dn s" style="left:707.6px;top:267.39px;width:12.6px"><span style="transform:scaleX(0.9300)">9</span></div>
<div class="wd s" style="left:728.9px;top:267.39px"><span style="transform:scaleX(0.7658)">NE/NE</span></div>
<div class="dn" style="left:707.6px;top:284.57px;width:12.6px"><span style="transform:scaleX(0.9300)">10</span></div>
<div class="wd" style="left:728.9px;top:284.57px"><span style="transform:scaleX(0.7658)">PO/PO</span></div>
<div class="dn" style="left:707.6px;top:301.74px;width:12.6px"><span style="transform:scaleX(0.9300)">11</span></div>
<div class="wd" style="left:728.9px;top:301.74px"><span style="transform:scaleX(0.7658)">ÚT/UT</span></div>
<div class="dn" style="left:707.6px;top:318.92px;width:12.6px"><span style="transform:scaleX(0.9300)">12</span></div>
<div class="wd" style="left:728.9px;top:318.92px"><span style="transform:scaleX(0.7658)">ST/ST</span></div>
<div class="dn" style="left:707.6px;top:336.09px;width:12.6px"><span style="transform:scaleX(0.9300)">13</span></div>
<div class="wd" style="left:728.9px;top:336.09px"><span style="transform:scaleX(0.7658)">ČT/ŠT</span></div>
<div class="dn" style="left:707.6px;top:353.26px;width:12.6px"><span style="transform:scaleX(0.9300)">14</span></div>
<div class="wd" style="left:728.9px;top:353.26px"><span style="transform:scaleX(0.7658)">PÁ/PIA</span></div>
<div class="dn" style="left:707.6px;top:370.44px;width:12.6px"><span style="transform:scaleX(0.9300)">15</span></div>
<div class="wd" style="left:728.9px;top:370.44px"><span style="transform:scaleX(0.7658)">SO/SO</span></div>
<div class="dn s" style="left:707.6px;top:387.61px;width:12.6px"><span style="transform:scaleX(0.9300)">16</span></div>
<div class="wd s" style="left:728.9px;top:387.61px"><span style="transform:scaleX(0.7658)">NE/NE</span></div>
<div class="dn" style="left:707.6px;top:404.79px;width:12.6px"><span style="transform:scaleX(0.9300)">17</span></div>
<div class="wd" style="left:728.9px;top:404.79px"><span style="transform:scaleX(0.7658)">PO/PO</span></div>
<div class="dn" style="left:707.6px;top:421.96px;width:12.6px"><span style="transform:scaleX(0.9300)">18</span></div>
<div class="wd" style="left:728.9px;top:421.96px"><span style="transform:scaleX(0.7658)">ÚT/UT</span></div>
<div class="dn" style="left:707.6px;top:439.14px;width:12.6px"><span style="transform:scaleX(0.9300)">19</span></div>
<div class="wd" style="left:728.9px;top:439.14px"><span style="transform:scaleX(0.7658)">ST/ST</span></div>
<div class="dn" style="left:707.6px;top:456.31px;width:12.6px"><span style="transform:scaleX(0.9300)">20</span></div>
<div class="wd" style="left:728.9px;top:456.31px"><span style="transform:scaleX(0.7658)">ČT/ŠT</span></div>
<div class="dn" style="left:707.6px;top:473.48px;width:12.6px"><span style="transform:scaleX(0.9300)">21</span></div>
<div class="wd" style="left:728.9px;top:473.48px"><span style="transform:scaleX(0.7658)">PÁ/PIA</span></div>
<div class="dn" style="left:707.6px;top:490.66px;width:12.6px"><span style="transform:scaleX(0.9300)">22</span></div>
<div class="wd" style="left:728.9px;top:490.66px"><span style="transform:scaleX(0.7658)">SO/SO</span></div>
<div class="dn s" style="left:707.6px;top:507.83px;width:12.6px"><span style="transform:scaleX(0.9300)">23</span></div>
<div class="wd s" style="left:728.9px;top:507.83px"><span style="transform:scaleX(0.7658)">NE/NE</span></div>
<div class="dn" style="left:707.6px;top:525.01px;width:12.6px"><span style="transform:scaleX(0.9300)">24</span></div>
<div class="wd" style="left:728.9px;top:525.01px"><span style="transform:scaleX(0.7658)">PO/PO</span></div>
<div class="dn" style="left:707.6px;top:542.18px;width:12.6px"><span style="transform:scaleX(0.9300)">25</span></div>
<div class="wd" style="left:728.9px;top:542.18px"><span style="transform:scaleX(0.7658)">ÚT/UT</span></div>
<div class="dn" style="left:707.6px;top:559.35px;width:12.6px"><span style="transform:scaleX(0.9300)">26</span></div>
<div class="wd" style="left:728.9px;top:559.35px"><span style="transform:scaleX(0.7658)">ST/ST</span></div>
<div class="dn" style="left:707.6px;top:576.53px;width:12.6px"><span style="transform:scaleX(0.9300)">27</span></div>
<div class="wd" style="left:728.9px;top:576.53px"><span style="transform:scaleX(0.7658)">ČT/ŠT</span></div>
<div class="dn" style="left:707.6px;top:593.70px;width:12.6px"><span style="transform:scaleX(0.9300)">28</span></div>
<div class="wd" style="left:728.9px;top:593.70px"><span style="transform:scaleX(0.7658)">PÁ/PIA</span></div>
<div class="dn" style="left:707.6px;top:610.88px;width:12.6px"><span style="transform:scaleX(0.9300)">29</span></div>
<div class="wd" style="left:728.9px;top:610.88px"><span style="transform:scaleX(0.7658)">SO/SO</span></div>
<div class="dn s" style="left:707.6px;top:628.05px;width:12.6px"><span style="transform:scaleX(0.9300)">30</span></div>
<div class="wd s" style="left:728.9px;top:628.05px"><span style="transform:scaleX(0.7658)">NE/NE</span></div>
<div class="dn" style="left:707.6px;top:645.23px;width:12.6px"><span style="transform:scaleX(0.9300)">31</span></div>
<div class="wd" style="left:728.9px;top:645.23px"><span style="transform:scaleX(0.7658)">PO/PO</span></div>
<div class="hd" style="left:840.7px;top:90.5px;width:121px;height:17.0px"></div>
<div class="sun" style="left:840.7px;top:210.87px;width:121px;height:17.17px"></div>
<div class="sun" style="left:840.7px;top:331.09px;width:121px;height:17.17px"></div>
<div class="sun" style="left:840.7px;top:451.31px;width:121px;height:17.17px"></div>
<div class="sun" style="left:840.7px;top:571.53px;width:121px;height:17.17px"></div>
<div class="tb" style="left:840.2px;top:90.0px;width:122px;height:567.9px"></div>
<div class="hl" style="left:840.7px;top:124.5px;width:121px"></div>
<div class="hl" style="left:840.7px;top:141.67px;width:121px"></div>
<div class="hl" style="left:840.7px;top:158.85px;width:121px"></div>
<div class="hl" style="left:840.7px;top:176.02px;width:121px"></div>
<div class="hl" style="left:840.7px;top:193.20px;width:121px"></div>
<div class="hl" style="left:840.7px;top:210.37px;width:121px"></div>
<div class="hl" style="left:840.7px;top:227.55px;width:121px"></div>
<div class="hl" style="left:840.7px;top:244.72px;width:121px"></div>
<div class="hl" style="left:840.7px;top:261.89px;width:121px"></div>
<div class="hl" style="left:840.7px;top:279.07px;width:121px"></div>
<div class="hl" style="left:840.7px;top:296.24px;width:121px"></div>
<div class="hl" style="left:840.7px;top:313.42px;width:121px"></div>
<div class="hl" style="left:840.7px;top:330.59px;width:121px"></div>
<div class="hl" style="left:840.7px;top:347.76px;width:121px"></div>
<div class="hl" style="left:840.7px;top:364.94px;width:121px"></div>
<div class="hl" style="left:840.7px;top:382.11px;width:121px"></div>
<div class="hl" style="left:840.7px;top:399.29px;width:121px"></div>
<div class="hl" style="left:840.7px;top:416.46px;width:121px"></div>
<div class="hl" style="left:840.7px;top:433.64px;width:121px"></div>
<div class="hl" style="left:840.7px;top:450.81px;width:121px"></div>
<div class="hl" style="left:840.7px;top:467.98px;width:121px"></div>
<div class="hl" style="left:840.7px;top:485.16px;width:121px"></div>
<div class="hl" style="left:840.7px;top:502.33px;width:121px"></div>
<div class="hl" style="left:840.7px;top:519.51px;width:121px"></div>
<div class="hl" style="left:840.7px;top:536.68px;width:121px"></div>
<div class="hl" style="left:840.7px;top:553.85px;width:121px"></div>
<div class="hl" style="left:840.7px;top:571.03px;width:121px"></div>
<div class="hl" style="left:840.7px;top:588.20px;width:121px"></div>
<div class="hl" style="left:840.7px;top:605.38px;width:121px"></div>
<div class="hl" style="left:840.7px;top:622.55px;width:121px"></div>
<div class="hl" style="left:840.7px;top:639.73px;width:121px"></div>
<div class="vl" style="left:857.2px;top:125.0px;height:532.4px"></div>
<div class="vl" style="left:892.2px;top:125.0px;height:532.4px"></div>
<div class="mh" style="left:801.2px;width:200px"><span style="transform:scaleX(0.6987);">ČERVEN/JÚN</span></div>
<div class="ms" style="left:801.2px;width:200px;"><span style="transform:scaleX(0.7331);">June/Juni/Június/Июнь</span></div>
<div class="dn" style="left:840.7px;top:130.00px;width:12.6px"><span style="transform:scaleX(0.9300)">1</span></div>
<div class="wd" style="left:862.0px;top:130.00px"><span style="transform:scaleX(0.7658)">ÚT/UT</span></div>
<div class="dn" style="left:840.7px;top:147.17px;width:12.6px"><span style="transform:scaleX(0.9300)">2</span></div>
<div class="wd" style="left:862.0px;top:147.17px"><span style="transform:scaleX(0.7658)">ST/ST</span></div>
<div class="dn" style="left:840.7px;top:164.35px;width:12.6px"><span style="transform:scaleX(0.9300)">3</span></div>
<div class="wd" style="left:862.0px;top:164.35px"><span style="transform:scaleX(0.7658)">ČT/ŠT</span></div>
<div class="dn" style="left:840.7px;top:181.52px;width:12.6px"><span style="transform:scaleX(0.9300)">4</span></div>
<div class="wd" style="left:862.0px;top:181.52px"><span style="transform:scaleX(0.7658)">PÁ/PIA</span></div>
<div class="dn" style="left:840.7px;top:198.70px;width:12.6px"><span style="transform:scaleX(0.9300)">5</span></div>
<div class="wd" style="left:862.0px;top:198.70px"><span style="transform:scaleX(0.7658)">SO/SO</span></div>
<div class="dn s" style="left:840.7px;top:215.87px;width:12.6px"><span style="transform:scaleX(0.9300)">6</span></div>
<div class="wd s" style="left:862.0px;top:215.87px"><span style="transform:scaleX(0.7658)">NE/NE</span></div>
<div class="dn" style="left:840.7px;top:233.05px;width:12.6px"><span style="transform:scaleX(0.9300)">7</span></div>
<div class="wd" style="left:862.0px;top:233.05px"><span style="transform:scaleX(0.7658)">PO/PO</span></div>
<div class="dn" style="left:840.7px;top:250.22px;width:12.6px"><span style="transform:scaleX(0.9300)">8</span></div>
<div class="wd" style="left:862.0px;top:250.22px"><span style="transform:scaleX(0.7658)">ÚT/UT</span></div>
<div class="dn" style="left:840.7px;top:267.39px;width:12.6px"><span style="transform:scaleX(0.9300)">9</span></div>
<div class="wd" style="left:862.0px;top:267.39px"><span style="transform:scaleX(0.7658)">ST/ST</span></div>
<div class="dn" style="left:840.7px;top:284.57px;width:12.6px"><span style="transform:scaleX(0.9300)">10</span></div>
<div class="wd" style="left:862.0px;top:284.57px"><span style="transform:scaleX(0.7658)">ČT/ŠT</span></div>
<div class="dn" style="left:840.7px;top:301.74px;width:12.6px"><span style="transform:scaleX(0.9300)">11</span></div>
<div class="wd" style="left:862.0px;top:301.74px"><span style="transform:scaleX(0.7658)">PÁ/PIA</span></div>
<div class="dn" style="left:840.7px;top:318.92px;width:12.6px"><span style="transform:scaleX(0.9300)">12</span></div>
<div class="wd" style="left:862.0px;top:318.92px"><span style="transform:scaleX(0.7658)">SO/SO</span></div>
<div class="dn s" style="left:840.7px;top:336.09px;width:12.6px"><span style="transform:scaleX(0.9300)">13</span></div>
<div class="wd s" style="left:862.0px;top:336.09px"><span style="transform:scaleX(0.7658)">NE/NE</span></div>
<div class="dn" style="left:840.7px;top:353.26px;width:12.6px"><span style="transform:scaleX(0.9300)">14</span></div>
<div class="wd" style="left:862.0px;top:353.26px"><span style="transform:scaleX(0.7658)">PO/PO</span></div>
<div class="dn" style="left:840.7px;top:370.44px;width:12.6px"><span style="transform:scaleX(0.9300)">15</span></div>
<div class="wd" style="left:862.0px;top:370.44px"><span style="transform:scaleX(0.7658)">ÚT/UT</span></div>
<div class="dn" style="left:840.7px;top:387.61px;width:12.6px"><span style="transform:scaleX(0.9300)">16</span></div>
<div class="wd" style="left:862.0px;top:387.61px"><span style="transform:scaleX(0.7658)">ST/ST</span></div>
<div class="dn" style="left:840.7px;top:404.79px;width:12.6px"><span style="transform:scaleX(0.9300)">17</span></div>
<div class="wd" style="left:862.0px;top:404.79px"><span style="transform:scaleX(0.7658)">ČT/ŠT</span></div>
<div class="dn" style="left:840.7px;top:421.96px;width:12.6px"><span style="transform:scaleX(0.9300)">18</span></div>
<div class="wd" style="left:862.0px;top:421.96px"><span style="transform:scaleX(0.7658)">PÁ/PIA</span></div>
<div class="dn" style="left:840.7px;top:439.14px;width:12.6px"><span style="transform:scaleX(0.9300)">19</span></div>
<div class="wd" style="left:862.0px;top:439.14px"><span style="transform:scaleX(0.7658)">SO/SO</span></div>
<div class="dn s" style="left:840.7px;top:456.31px;width:12.6px"><span style="transform:scaleX(0.9300)">20</span></div>
<div class="wd s" style="left:862.0px;top:456.31px"><span style="transform:scaleX(0.7658)">NE/NE</span></div>
<div class="dn" style="left:840.7px;top:473.48px;width:12.6px"><span style="transform:scaleX(0.9300)">21</span></div>
<div class="wd" style="left:862.0px;top:473.48px"><span style="transform:scaleX(0.7658)">PO/PO</span></div>
<div class="dn" style="left:840.7px;top:490.66px;width:12.6px"><span style="transform:scaleX(0.9300)">22</span></div>
<div class="wd" style="left:862.0px;top:490.66px"><span style="transform:scaleX(0.7658)">ÚT/UT</span></div>
<div class="dn" style="left:840.7px;top:507.83px;width:12.6px"><span style="transform:scaleX(0.9300)">23</span></div>
<div class="wd" style="left:862.0px;top:507.83px"><span style="transform:scaleX(0.7658)">ST/ST</span></div>
<div class="dn" style="left:840.7px;top:525.01px;width:12.6px"><span style="transform:scaleX(0.9300)">24</span></div>
<div class="wd" style="left:862.0px;top:525.01px"><span style="transform:scaleX(0.7658)">ČT/ŠT</span></div>
<div class="dn" style="left:840.7px;top:542.18px;width:12.6px"><span style="transform:scaleX(0.9300)">25</span></div>
<div class="wd" style="left:862.0px;top:542.18px"><span style="transform:scaleX(0.7658)">PÁ/PIA</span></div>
<div class="dn" style="left:840.7px;top:559.35px;width:12.6px"><span style="transform:scaleX(0.9300)">26</span></div>
<div class="wd" style="left:862.0px;top:559.35px"><span style="transform:scaleX(0.7658)">SO/SO</span></div>
<div class="dn s" style="left:840.7px;top:576.53px;width:12.6px"><span style="transform:scaleX(0.9300)">27</span></div>
<div class="wd s" style="left:862.0px;top:576.53px"><span style="transform:scaleX(0.7658)">NE/NE</span></div>
<div class="dn" style="left:840.7px;top:593.70px;width:12.6px"><span style="transform:scaleX(0.9300)">28</span></div>
<div class="wd" style="left:862.0px;top:593.70px"><span style="transform:scaleX(0.7658)">PO/PO</span></div>
<div class="dn" style="left:840.7px;top:610.88px;width:12.6px"><span style="transform:scaleX(0.9300)">29</span></div>
<div class="wd" style="left:862.0px;top:610.88px"><span style="transform:scaleX(0.7658)">ÚT/UT</span></div>
<div class="dn" style="left:840.7px;top:628.05px;width:12.6px"><span style="transform:scaleX(0.9300)">30</span></div>
<div class="wd" style="left:862.0px;top:628.05px"><span style="transform:scaleX(0.7658)">ST/ST</span></div>
<svg class="a" style="left:0;top:0" width="1024" height="723" viewBox="0 0 1024 723"><g fill="#222"><circle cx="12.20" cy="668.00" r="1.3"/><circle cx="19.04" cy="668.53" r="1.3"/><circle cx="25.70" cy="670.09" r="1.3"/><circle cx="32.04" cy="672.65" r="1.3"/><circle cx="37.89" cy="676.15" r="1.3"/><circle cx="43.10" cy="680.51" r="1.3"/><circle cx="47.55" cy="685.60" r="1.3"/><circle cx="51.14" cy="691.31" r="1.3"/><circle cx="53.76" cy="697.50" r="1.3"/><circle cx="55.36" cy="704.02" r="1.3"/><circle cx="55.90" cy="710.70" r="1.3"/><circle cx="1011.70" cy="667.70" r="1.3"/><circle cx="1004.90" cy="668.23" r="1.3"/><circle cx="998.26" cy="669.80" r="1.3"/><circle cx="991.95" cy="672.38" r="1.3"/><circle cx="986.13" cy="675.89" r="1.3"/><circle cx="980.94" cy="680.27" r="1.3"/><circle cx="976.51" cy="685.38" r="1.3"/><circle cx="972.94" cy="691.12" r="1.3"/><circle cx="970.33" cy="697.34" r="1.3"/><circle cx="968.74" cy="703.89" r="1.3"/><circle cx="968.20" cy="710.60" r="1.3"/></g><g class="bdg"><ellipse cx="170.80" cy="133.60" rx="5.85" ry="2.85"/><text x="170.80" y="135.35" textLength="5.8" lengthAdjust="spacingAndGlyphs">SK</text><ellipse cx="156.60" cy="133.60" rx="5.85" ry="2.85"/><text x="156.60" y="135.35" textLength="5.8" lengthAdjust="spacingAndGlyphs">CZ</text><ellipse cx="170.80" cy="219.47" rx="5.85" ry="2.85"/><text x="170.80" y="221.22" textLength="5.8" lengthAdjust="spacingAndGlyphs">SK</text><ellipse cx="437.00" cy="562.95" rx="5.85" ry="2.85"/><text x="437.00" y="564.70" textLength="5.8" lengthAdjust="spacingAndGlyphs">SK</text><ellipse cx="422.80" cy="562.95" rx="5.85" ry="2.85"/><text x="422.80" y="564.70" textLength="5.8" lengthAdjust="spacingAndGlyphs">CZ</text><ellipse cx="437.00" cy="597.30" rx="5.85" ry="2.85"/><text x="437.00" y="599.05" textLength="5.8" lengthAdjust="spacingAndGlyphs">SK</text><ellipse cx="437.00" cy="614.48" rx="5.85" ry="2.85"/><text x="437.00" y="616.23" textLength="5.8" lengthAdjust="spacingAndGlyphs">SK</text><ellipse cx="422.80" cy="614.48" rx="5.85" ry="2.85"/><text x="422.80" y="616.23" textLength="5.8" lengthAdjust="spacingAndGlyphs">CZ</text><ellipse cx="815.90" cy="133.60" rx="5.85" ry="2.85"/><text x="815.90" y="135.35" textLength="5.8" lengthAdjust="spacingAndGlyphs">SK</text><ellipse cx="801.70" cy="133.60" rx="5.85" ry="2.85"/><text x="801.70" y="135.35" textLength="5.8" lengthAdjust="spacingAndGlyphs">CZ</text><ellipse cx="815.90" cy="253.82" rx="5.85" ry="2.85"/><text x="815.90" y="255.57" textLength="5.8" lengthAdjust="spacingAndGlyphs">SK</text><ellipse cx="801.70" cy="253.82" rx="5.85" ry="2.85"/><text x="801.70" y="255.57" textLength="5.8" lengthAdjust="spacingAndGlyphs">CZ</text></g></svg>
</body></html>
